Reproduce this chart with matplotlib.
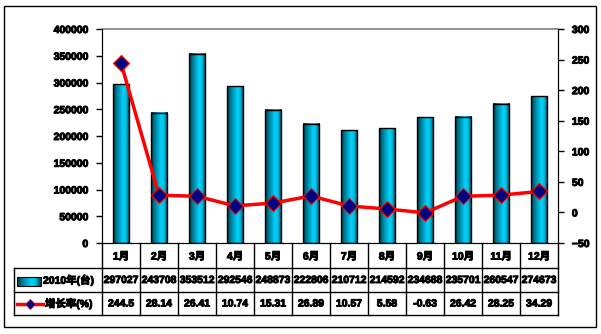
import numpy as np
import matplotlib.pyplot as plt
import matplotlib.patheffects as pe
from matplotlib.colors import LinearSegmentedColormap
from matplotlib.patches import Rectangle

plt.rcParams['font.family'] = ['Liberation Sans', 'Noto Sans CJK SC', 'DejaVu Sans']
plt.rcParams['font.weight'] = 'bold'

# data
months = ['1月', '2月', '3月', '4月', '5月', '6月', '7月', '8月', '9月', '10月', '11月', '12月']
sales = [297027, 243708, 353512, 292546, 248873, 222806, 210712, 214592, 234688, 235701, 260547, 274673]
growth = [244.5, 28.14, 26.41, 10.74, 15.31, 26.89, 10.57, 5.58, -0.63, 26.42, 28.25, 34.29]
sales_name = '2010年(台)'
growth_name = '增长率(%)'

heavy = [pe.withStroke(linewidth=0.7, foreground='black')]

W, H = 601, 334
fig = plt.figure(figsize=(W / 100, H / 100), dpi=100)

# plot box in pixels
px0, px1, py_top, py_bot = 102, 558, 29, 243
ax = fig.add_axes([px0 / W, (H - py_bot) / H, (px1 - px0) / W, (py_bot - py_top) / H])

cyl = LinearSegmentedColormap.from_list('cyl', [
    (0.0, '#00303c'), (0.18, '#00718a'), (0.6, '#00d2fa'),
    (0.78, '#00bfe6'), (1.0, '#003644')])
grad = np.linspace(0, 1, 64).reshape(1, -1)

x = np.arange(len(months))
bw = 0.43
for xi, v in zip(x, sales):
    ax.imshow(grad, cmap=cyl, aspect='auto', extent=[xi - bw / 2, xi + bw / 2, 0, v],
              zorder=2, interpolation='bilinear')
ax.bar(x, sales, width=bw, facecolor='none', edgecolor='black', linewidth=1, zorder=3)

ax.set_xlim(-0.5, len(months) - 0.5)
ax.set_ylim(0, 400000)
ax.set_yticks(np.arange(0, 400001, 50000))
ax.set_xticks([])
ax.tick_params(axis='y', direction='out', length=4, width=1, pad=6, labelsize=7.5)
for s in ['left', 'bottom', 'right']:
    ax.spines[s].set_color('black')
ax.spines['top'].set_color('#808080')
ax.spines['top'].set_linewidth(1.2)

ax2 = ax.twinx()
ax2.set_ylim(-50, 300)
ax2.set_yticks(np.arange(-50, 301, 50))
ax2.tick_params(axis='y', direction='out', length=4, width=1, pad=6, labelsize=7.5)
ax2.plot(x, growth, color='#ff0000', linewidth=2.5, marker='D', markersize=8.5,
         markerfacecolor='#000080', markeredgecolor='#ff0000', markeredgewidth=0.8, zorder=5)
ax2.spines['top'].set_visible(False)

for lab in ax.get_yticklabels() + ax2.get_yticklabels():
    lab.set_path_effects(heavy)

# overlay in pixel coordinates for the data table
ov = fig.add_axes([0, 0, 1, 1])
ov.set_xlim(0, W)
ov.set_ylim(H, 0)
ov.axis('off')
ov.patch.set_alpha(0)

cw = (px1 - px0) / len(months)
row1_top, row_mid, row_bot, tab_left = 268, 292, 315, 14
lk = dict(color='black', linewidth=1)
for k in range(len(months) + 1):
    ov.plot([px0 + k * cw] * 2, [py_bot, row_bot], **lk)
ov.plot([tab_left, tab_left], [row1_top, row_bot], **lk)
for yy in [row1_top, row_mid, row_bot]:
    ov.plot([tab_left, px1], [yy, yy], **lk)

tk = dict(va='center', fontsize=7.5, path_effects=heavy)
for i, m in enumerate(months):
    cx = px0 + (i + 0.5) * cw
    ov.text(cx, (py_bot + row1_top) / 2 + 1, m, ha='center', **tk)
    ov.text(cx, (row1_top + row_mid) / 2, str(sales[i]), ha='center', **tk)
    ov.text(cx, (row_mid + row_bot) / 2, '%g' % growth[i], ha='center', **tk)

# legend keys
ov.imshow(grad, cmap=cyl, aspect='auto', extent=[17, 41, 286, 277], interpolation='bilinear')
ov.add_patch(Rectangle((17, 277), 24, 9, facecolor='none', edgecolor='black', linewidth=0.8))
ov.text(43, (row1_top + row_mid) / 2, sales_name, ha='left', **tk)
ov.plot([17, 43], [304, 304], color='#ff0000', linewidth=2.5)
ov.plot([30], [304], marker='D', markersize=5.5, markerfacecolor='#000080',
        markeredgecolor='#ff0000', markeredgewidth=0.6)
ov.text(45, (row_mid + row_bot) / 2, growth_name, ha='left', **tk)

# outer border
ov.add_patch(Rectangle((4, 6), 592, 321, facecolor='none', edgecolor='black', linewidth=1))
ov.set_xlim(0, W)
ov.set_ylim(H, 0)

fig.savefig('out.png', dpi=100)
